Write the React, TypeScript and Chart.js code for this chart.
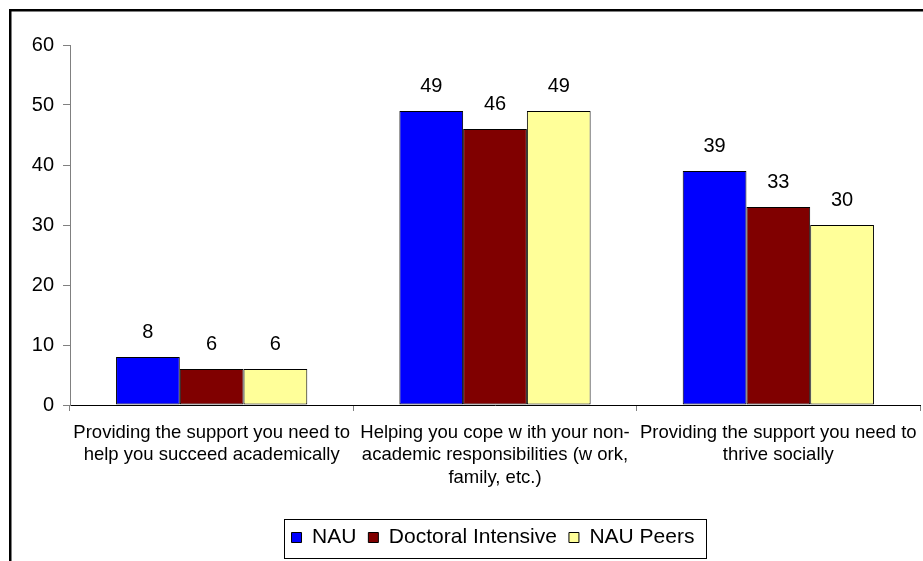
import React, { useEffect, useRef } from "react";
import { Chart, registerables } from "chart.js";

Chart.register(...registerables);

const categories: string[][] = [
  ["Providing the support you need to", "help you succeed academically"],
  ["Helping you cope w ith your non-", "academic responsibilities (w ork,", "family, etc.)"],
  ["Providing the support you need to", "thrive socially"],
];
const nauValues = [8, 49, 39];
const doctoralValues = [6, 46, 33];
const peersValues = [6, 49, 30];
const seriesNames = ["NAU", "Doctoral Intensive", "NAU Peers"];
const yTicks = [0, 10, 20, 30, 40, 50, 60];

const FONT = "'Liberation Sans', Arial, sans-serif";

const framePlugin = {
  id: "frame",
  afterLayout(chart: any) {
    const lg = chart.legend;
    if (lg) {
      lg.left += 33;
      lg.right += 33;
    }
  },
  beforeDraw(chart: any) {
    const ctx = chart.ctx;
    ctx.save();
    ctx.fillStyle = "#ffffff";
    ctx.fillRect(0, 0, chart.width, chart.height);
    ctx.fillStyle = "#000000";
    ctx.fillRect(9, 9, chart.width, 2.5);
    ctx.fillRect(9, 9, 2.5, chart.height);
    ctx.restore();
  },
  afterDraw(chart: any) {
    const lg = chart.legend;
    if (!lg || !lg.legendHitBoxes || !lg.legendHitBoxes.length) return;
    const boxes = lg.legendHitBoxes;
    const first = boxes[0];
    const last = boxes[boxes.length - 1];
    const left = first.left - 8;
    const right = last.left + last.width + 11;
    const cy = first.top + first.height / 2;
    const ctx = chart.ctx;
    ctx.save();
    ctx.strokeStyle = "#000000";
    ctx.lineWidth = 1;
    ctx.strokeRect(Math.round(left) + 0.5, Math.round(cy - 19) + 0.5, Math.round(right - left), 39);
    ctx.restore();
  },
};

const valueLabelPlugin = {
  id: "valueLabels",
  afterDatasetsDraw(chart: any) {
    const ctx = chart.ctx;
    ctx.save();
    ctx.font = `20px ${FONT}`;
    ctx.fillStyle = "#000000";
    ctx.textAlign = "center";
    ctx.textBaseline = "middle";
    chart.data.datasets.forEach((ds: any, i: number) => {
      const meta = chart.getDatasetMeta(i);
      meta.data.forEach((bar: any, j: number) => {
        ctx.fillText(String(ds.data[j]), bar.x, bar.y - 25);
      });
    });
    ctx.restore();
  },
};

export default function App() {
  const ref = useRef<HTMLCanvasElement>(null);
  useEffect(() => {
    if (!ref.current) return;
    const mk = (label: string, data: number[], color: string) => ({
      label,
      data,
      backgroundColor: color,
      borderColor: "#000000",
      borderWidth: 1,
      borderSkipped: false,
      categoryPercentage: 0.675,
      barPercentage: 1,
    });
    const chart = new Chart(ref.current, {
      type: "bar",
      data: {
        labels: categories,
        datasets: [
          mk(seriesNames[0], nauValues, "#0000FF"),
          mk(seriesNames[1], doctoralValues, "#800000"),
          mk(seriesNames[2], peersValues, "#FFFF99"),
        ],
      },
      options: {
        animation: false,
        responsive: false,
        devicePixelRatio: 1,
        layout: { padding: { left: 0, right: 3, top: 45, bottom: 3 } },
        plugins: {
          tooltip: { enabled: false },
          legend: {
            position: "bottom",
            labels: {
              boxWidth: 10,
              boxHeight: 10,
              padding: 12,
              color: "#000000",
              font: { family: FONT, size: 21 },
            },
          },
        },
        scales: {
          x: {
            afterFit: (s: any) => {
              s.height = 110;
              s.paddingLeft = 0;
              s.paddingRight = 0;
            },
            grid: {
              display: true,
              drawOnChartArea: false,
              tickLength: 6,
              color: "#808080",
              offset: true,
            },
            border: { display: true, color: "#000000", width: 1 },
            ticks: {
              autoSkip: false,
              maxRotation: 0,
              minRotation: 0,
              padding: 11,
              color: "#000000",
              font: { family: FONT, size: 18.5, lineHeight: 1.2 },
            },
          },
          y: {
            min: 0,
            max: 60,
            afterFit: (s: any) => {
              s.width = 70;
            },
            afterBuildTicks: (s: any) => {
              s.ticks = yTicks.map((v) => ({ value: v }));
            },
            grid: {
              display: true,
              drawOnChartArea: false,
              tickLength: 7,
              color: "#808080",
            },
            border: { display: true, color: "#808080", width: 1 },
            ticks: {
              padding: 9,
              color: "#000000",
              font: { family: FONT, size: 20 },
            },
          },
        },
      },
      plugins: [framePlugin, valueLabelPlugin],
    } as any);
    return () => chart.destroy();
  }, []);
  return (
    <div style={{ position: "absolute", left: 0, top: 0, width: 923, height: 561 }}>
      <canvas ref={ref} width={923} height={561} />
    </div>
  );
}
